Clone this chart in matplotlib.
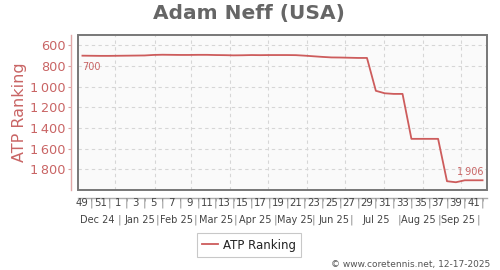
import matplotlib
matplotlib.use("Agg")
import matplotlib.pyplot as plt
from matplotlib.patches import Rectangle
from matplotlib.ticker import FuncFormatter

# ---- data ----
week_labels = ["49", "50", "51", "52"] + [str(w) for w in range(1, 43)]
ranking = [700, 701, 702, 702, 701, 700, 699, 698, 693, 691,
           692, 693, 693, 692, 692, 694, 695, 697, 696, 694,
           695, 694, 694, 694, 695, 700, 706, 712, 717, 718,
           720, 722, 722, 1040, 1064, 1070, 1070, 1505, 1505, 1505,
           1505, 1915, 1925, 1906, 1906, 1906]
month_labels = ["Dec 24", "Jan 25", "Feb 25", "Mar 25", "Apr 25",
                "May 25", "Jun 25", "Jul 25", "Aug 25", "Sep 25"]
yticks = [600, 800, 1000, 1200, 1400, 1600, 1800]
title = "Adam Neff (USA)"
series_name = "ATP Ranking"
footer = "\u00a9 www.coretennis.net, 12-17-2025"

# ---- layout constants ----
month_centers = [1.7, 6.4, 10.6, 15.0, 19.4, 23.9, 28.3, 33.0, 37.8, 42.2]
month_seps = [4.2, 8.4, 12.7, 17.2, 21.7, 26.0, 30.2, 35.7, 40.1, 44.5]
vgrid = [3.7, 8.2, 12.2, 16.6, 20.9, 25.2, 29.5, 33.9, 38.3, 42.6]

red = "#c96565"
txt = "#444444"

fig = plt.figure(figsize=(5, 2.7), dpi=100)
ax = fig.add_axes([78/500, 1-190/270, (487-78)/500, (190-35)/270])
ax.set_facecolor("#fafafa")

x = list(range(len(ranking)))
line, = ax.plot(x, ranking, color="#cd5c5c", lw=1.3, label=series_name)

ax.set_xlim(-0.5, 45.5)
ax.set_ylim(2000, 500)

# grid
ax.set_yticks(yticks)
ax.yaxis.set_major_formatter(FuncFormatter(lambda v, p: f"{int(v):,}".replace(",", "\u2009")))
for v in yticks:
    ax.axhline(v, color="#d6d6d6", lw=0.8, ls=(0, (3, 3)), zorder=0)
for v in vgrid:
    ax.axvline(v, color="#d6d6d6", lw=0.8, ls=(0, (3, 3)), zorder=0)

# spines
for s in ["top", "right"]:
    ax.spines[s].set_visible(False)
ax.spines["left"].set_position(("outward", 5))
ax.spines["left"].set_color("#e0a8a8")
ax.spines["left"].set_linewidth(1.0)
ax.spines["bottom"].set_position(("outward", 6))
ax.spines["bottom"].set_color("#aaaaaa")
ax.spines["bottom"].set_linewidth(1.0)
ax.add_patch(Rectangle((0, 0), 1, 1, transform=ax.transAxes, fill=False,
                       edgecolor="#777777", lw=1.4, zorder=5, clip_on=False))

ax.tick_params(axis="y", colors="#d9a0a0", labelcolor=red, labelsize=9.3,
               length=2, width=0.8, pad=2)
ax.set_ylabel(series_name, color=red, fontsize=11.5, labelpad=2)

# x labels
ax.set_xticks(x[1::2], minor=False)
ax.set_xticklabels([])
ax.tick_params(axis="x", length=2, width=0.6, colors="#aaaaaa")
for i, lab in enumerate(week_labels):
    if i % 2 == 0:
        ax.annotate(lab, xy=(i, 0), xycoords=("data", "axes fraction"),
                    xytext=(0, -13*0.72), textcoords="offset points",
                    ha="center", va="center", fontsize=7.3, color=txt)
    else:
        ax.annotate("|", xy=(i, 0), xycoords=("data", "axes fraction"),
                    xytext=(0, -13*0.72), textcoords="offset points",
                    ha="center", va="center", fontsize=8, color="#888888")
for c, lab in zip(month_centers, month_labels):
    ax.annotate(lab, xy=(c, 0), xycoords=("data", "axes fraction"),
                xytext=(0, -30*0.72), textcoords="offset points",
                ha="center", va="center", fontsize=7, color=txt)
for s in month_seps:
    ax.annotate("|", xy=(s, 0), xycoords=("data", "axes fraction"),
                xytext=(0, -30*0.72), textcoords="offset points",
                ha="center", va="center", fontsize=8, color="#888888")

# value annotations
ax.annotate(f"{ranking[0]}", xy=(x[0], ranking[0]), xytext=(0, -8),
            textcoords="offset points", ha="left", va="center",
            fontsize=7, color=red)
ax.annotate(f"{ranking[-1]:,}".replace(",", "\u2009"), xy=(x[-1], ranking[-1]),
            xytext=(1, 6), textcoords="offset points", ha="right", va="center",
            fontsize=7, color=red)

fig.suptitle(title, x=0.498, y=1-14/270, va="center", fontsize=14.5,
             fontweight="bold", color="#666666")

leg = fig.legend(handles=[line], loc="center", bbox_to_anchor=(0.498, 1-245/270),
                 fontsize=8.5, frameon=True, fancybox=False, handlelength=1.4,
                 handletextpad=0.4, borderpad=0.45)
leg.get_frame().set_edgecolor("#bbbbbb")
leg.get_frame().set_linewidth(0.8)
for t in leg.get_texts():
    t.set_color("#222222")

fig.text(490/500, 1-264/270, footer, ha="right", va="center",
         fontsize=6.5, color="#555555")

fig.savefig("out.png", dpi=100, facecolor="white")
